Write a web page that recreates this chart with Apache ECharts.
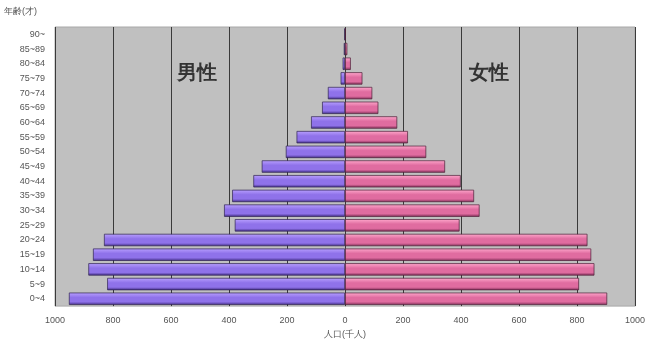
<!DOCTYPE html>
<html lang="ja">
<head>
<meta charset="UTF-8">
<title>人口ピラミッド</title>
<script src="https://cdn.jsdelivr.net/npm/echarts@6.0.0/dist/echarts.min.js"></script>
<style>
  html, body { margin: 0; padding: 0; background: #fff; }
  #main { width: 648px; height: 344px; }
</style>
</head>
<body>
<div id="main"></div>
<script>
// 年齢階級（下から上へ）
var ages = ['0~4', '5~9', '10~14', '15~19', '20~24', '25~29', '30~34', '35~39', '40~44',
  '45~49', '50~54', '55~59', '60~64', '65~69', '70~74', '75~79', '80~84', '85~89', '90~'];
// 人口（千人）
var male = [952, 820, 885, 869, 831, 380, 417, 389, 316, 287, 204, 167, 117, 79, 59, 15, 8, 4, 2];
var female = [904, 807, 860, 849, 836, 395, 464, 445, 399, 345, 280, 217, 180, 115, 94, 60, 20, 8, 3];
var xTicks = [-1000, -800, -600, -400, -200, 0, 200, 400, 600, 800, 1000];

var myChart = echarts.init(document.getElementById('main'));

function barGrad(light, mid, dark) {
  return new echarts.graphic.LinearGradient(0, 0, 0, 1, [
    { offset: 0, color: light },
    { offset: 0.4, color: mid },
    { offset: 0.75, color: mid },
    { offset: 1, color: dark }
  ]);
}

var option = {
  animation: false,
  grid: {
    left: 55, right: 11, top: 27, bottom: 35,
    show: true, backgroundColor: '#c0c0c0', borderColor: '#a8a8a8', borderWidth: 1
  },
  xAxis: {
    type: 'value',
    min: xTicks[0], max: xTicks[xTicks.length - 1], interval: 200,
    name: '人口(千人)', nameLocation: 'middle', nameGap: 19,
    nameTextStyle: { fontSize: 9, color: '#555' },
    axisLine: { show: false },
    axisTick: { show: false },
    axisLabel: { fontSize: 9, color: '#555', margin: 10, formatter: function (v) { return Math.abs(v); } },
    splitLine: { show: true, lineStyle: { color: '#3a3a3a', width: 1 } }
  },
  yAxis: {
    type: 'category',
    data: ages,
    axisLine: { show: false },
    axisTick: { show: false },
    axisLabel: { fontSize: 9, color: '#555', margin: 10 }
  },
  series: [
    {
      name: '男性', type: 'bar', stack: 'p', barCategoryGap: '16%',
      data: male.map(function (v) { return -v; }),
      itemStyle: { color: barGrad('#b9a0ff', '#8f72ea', '#3e2a80'), borderColor: '#2e2250', borderWidth: 0.7 }
    },
    {
      name: '女性', type: 'bar', stack: 'p', barCategoryGap: '16%',
      data: female,
      itemStyle: { color: barGrad('#ffa8cc', '#e06ca0', '#7e2c55'), borderColor: '#4e2038', borderWidth: 0.7 }
    }
  ],
  graphic: [
    { type: 'text', left: 4, top: 7, style: { text: '年齢(才)', fontSize: 9, fill: '#555' } },
    { type: 'text', left: 177, top: 63, style: { text: '男性', fontSize: 20, fontWeight: 'bold', fill: '#333' } },
    { type: 'text', left: 469, top: 63, style: { text: '女性', fontSize: 20, fontWeight: 'bold', fill: '#333' } }
  ]
};

myChart.setOption(option);
</script>
</body>
</html>
